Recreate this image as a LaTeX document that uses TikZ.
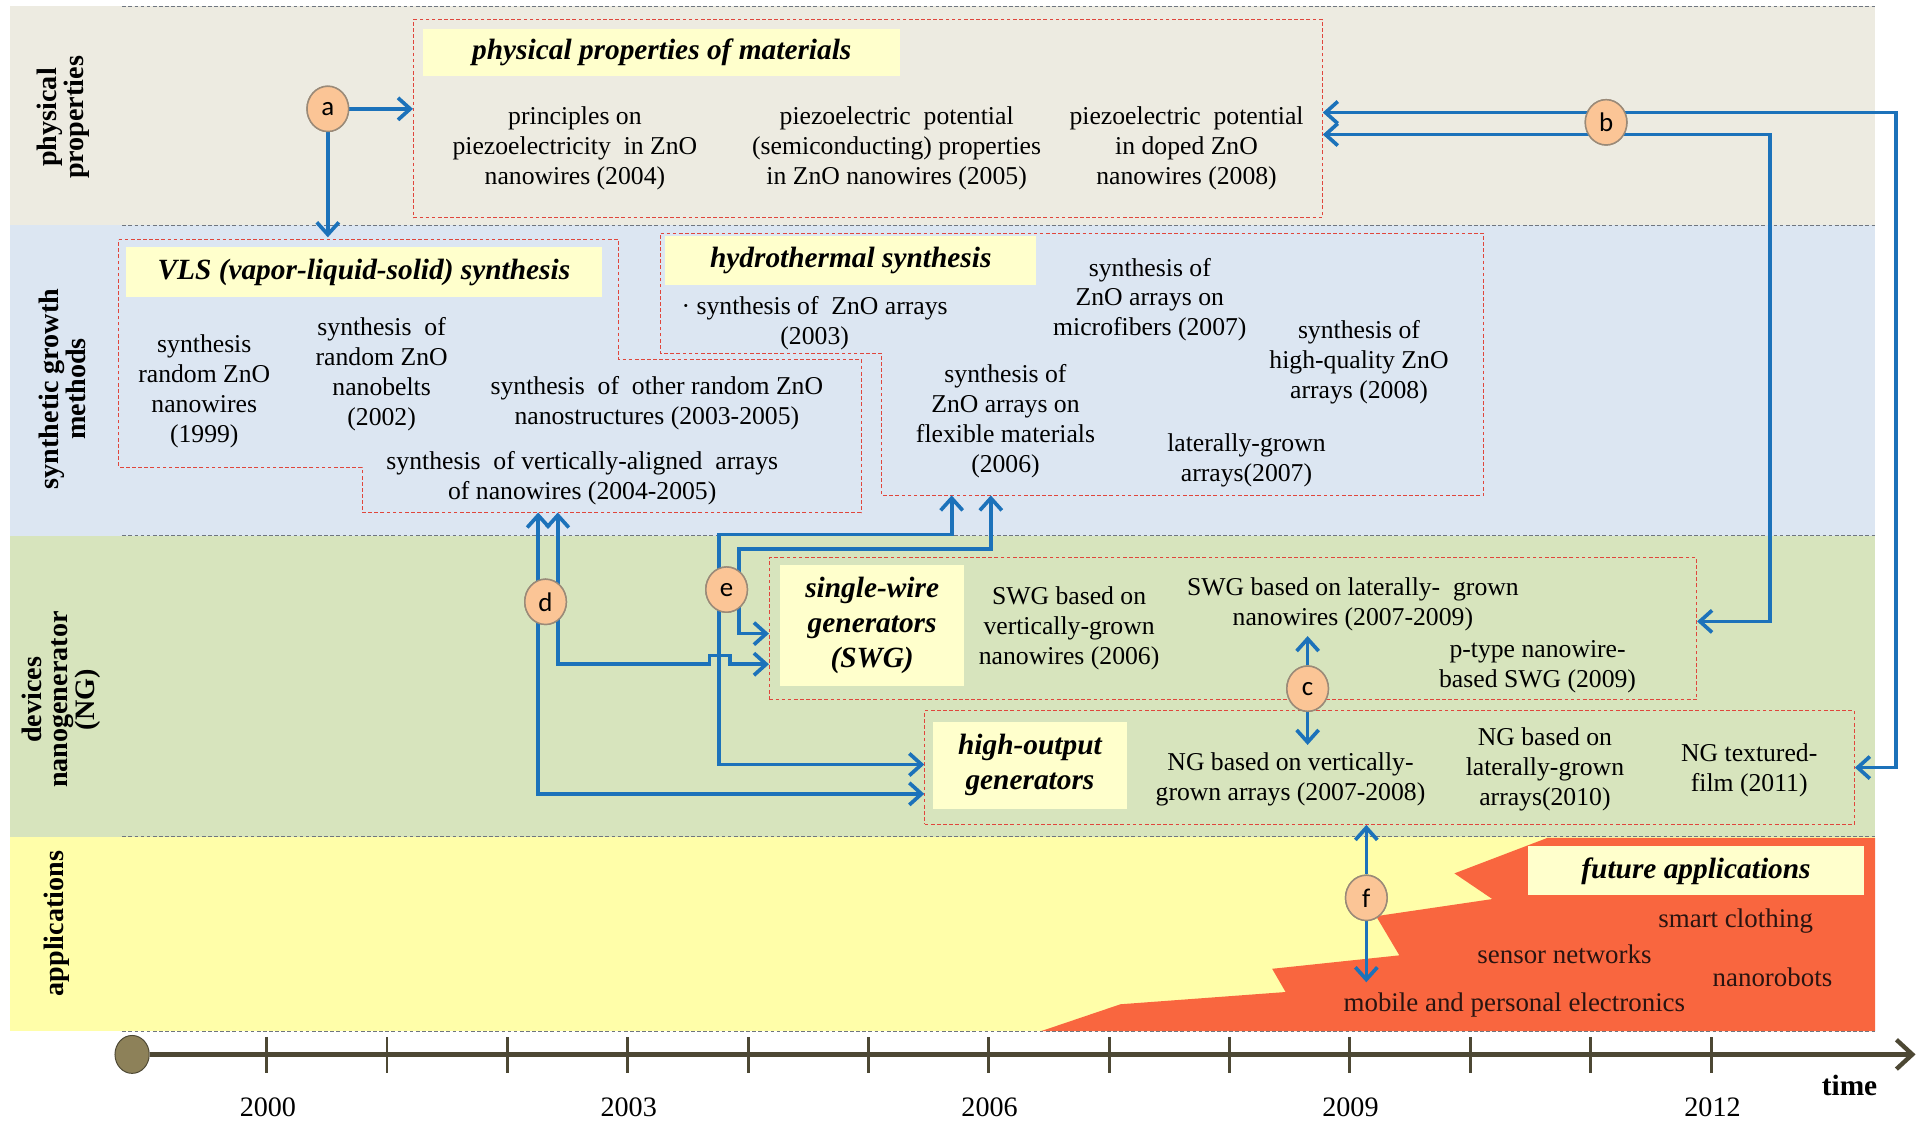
\documentclass[tikz,border=0pt]{standalone}
\usepackage{fontspec}
\setmainfont{Liberation Serif}
\newfontfamily\circfont{Carlito}
\usetikzlibrary{arrows.meta,shapes.geometric}

\definecolor{bandPhys}{HTML}{EDEBE1}
\definecolor{bandSyn}{HTML}{DCE6F2}
\definecolor{bandDev}{HTML}{D7E4BD}
\definecolor{bandApp}{HTML}{FFFEA9}
\definecolor{futRed}{HTML}{F9663F}
\definecolor{titleFill}{HTML}{FFFFCC}
\definecolor{boxRed}{HTML}{E0463C}
\definecolor{sepGray}{HTML}{6F7680}
\definecolor{arrBlue}{HTML}{1C72BA}
\definecolor{circFill}{HTML}{FBC596}
\definecolor{circLine}{HTML}{9A8A78}
\definecolor{axisOlive}{HTML}{4D4834}
\definecolor{dotOlive}{HTML}{8D8159}
\definecolor{futText}{HTML}{2A1410}

\begin{document}
\begin{tikzpicture}[x=1pt,y=-1pt,
  >={Straight Barb[length=10pt,width=18pt]},
  sep/.style={draw=sepGray, dash pattern=on 3pt off 2pt, line width=0.8pt},
  groupbox/.style={draw=boxRed, dash pattern=on 3pt off 2pt, line width=0.8pt},
  titlebox/.style={fill=titleFill, inner sep=0pt, align=center,
    font=\fontsize{24}{28.5}\selectfont\bfseries\itshape},
  txt/.style={align=center, inner sep=0pt, font=\fontsize{21}{24.5}\selectfont},
  futtxt/.style={inner sep=0pt, text=futText, font=\fontsize{22}{26}\selectfont},
  lbl/.style={rotate=90, align=center, inner sep=0pt,
    font=\fontsize{23}{22}\selectfont\bfseries},
  year/.style={inner sep=0pt, font=\fontsize{23}{26}\selectfont},
  tag/.style={ellipse, minimum width=34pt, minimum height=37pt, inner sep=0pt,
    fill=circFill, draw=circLine, line width=1.2pt,
    font=\circfont\fontsize{22}{22}\selectfont},
  conn/.style={draw=arrBlue, line width=3pt},
  axis/.style={draw=axisOlive, line width=3.6pt},
  tick/.style={draw=axisOlive, line width=2.4pt}]

\useasboundingbox (0,0) rectangle (1568,917);

% horizontal bands
\fill[bandPhys] (8,5) rectangle (1533,184);
\fill[bandSyn] (8,184) rectangle (1533,438);
\fill[bandDev] (8,438) rectangle (1533,684);
\fill[bandApp] (8,684) rectangle (1533,843);

% rising area of future applications
\fill[futRed] (851,843) -- (916,821) -- (1051,811) -- (1040,792) -- (1144,781)
  -- (1125,749) -- (1220,735) -- (1189,714) -- (1265,685) -- (1533,685)
  -- (1533,843) -- cycle;

% band separators
\foreach \yy in {5,184,438,684,843}
  \draw[sep] (100,\yy) -- (1533,\yy);

% band labels
\node[lbl] (lphys) at (52,96) {physical\\properties};
\node[lbl] (lsyn) at (51,318) {synthetic growth\\methods};
\node[lbl] (ldev) at (50,572) {devices\\nanogenerator\\(NG)};
\node[lbl] (lapp) at (46,755) {applications};

% ---- physical properties ----
\node[groupbox, minimum width=743pt, minimum height=162pt, inner sep=0pt] (ppbox) at (709.5,97) {};
\node[titlebox, minimum width=390pt, minimum height=38pt] (ppttl) at (541,43) {physical properties of materials};
\node[txt] (p1) at (470,121) {principles on\\piezoelectricity\ \ in ZnO\\nanowires (2004)};
\node[txt] (p2) at (733,121) {piezoelectric\ \ potential\\(semiconducting) properties\\in ZnO nanowires (2005)};
\node[txt] (p3) at (970,121) {piezoelectric\ \ potential\\in doped ZnO\\nanowires (2008)};

% ---- VLS synthesis ----
\draw[groupbox] (97,196) -- (506,196) -- (506,294) -- (704,294) -- (704,419)
  -- (296,419) -- (296,382) -- (97,382) -- cycle;
\node[titlebox, minimum width=389pt, minimum height=41pt] (vlsttl) at (297.5,222.5) {VLS (vapor-liquid-solid) synthesis};
\node[txt] (v1) at (167,320) {synthesis\\random ZnO\\nanowires\\(1999)};
\node[txt] (v2) at (312,306) {synthesis\ \ of\\random ZnO\\nanobelts\\(2002)};
\node[txt] (v3) at (537,330) {synthesis\ \ of\ \ other random ZnO\\nanostructures (2003-2005)};
\node[txt] (v4) at (476,391) {synthesis\ \ of vertically-aligned\ \ arrays\\of nanowires (2004-2005)};

% ---- hydrothermal synthesis ----
\draw[groupbox] (540,191) -- (1213,191) -- (1213,405) -- (721,405) -- (721,289)
  -- (540,289) -- cycle;
\node[titlebox, minimum width=303pt, minimum height=40pt] (hyttl) at (695.5,213) {hydrothermal synthesis};
\node[txt] (h1) at (666,264) {· synthesis of\ \ ZnO arrays\\(2003)};
\node[txt] (h2) at (940,245) {synthesis of\\ZnO arrays on\\microfibers (2007)};
\node[txt] (h3) at (1111,296) {synthesis of\\high-quality ZnO\\arrays (2008)};
\node[txt] (h4) at (822,344) {synthesis of\\ZnO arrays on\\flexible materials\\(2006)};
\node[txt] (h5) at (1019,376) {laterally-grown\\arrays(2007)};

% ---- single-wire generators ----
\node[groupbox, minimum width=758pt, minimum height=116pt, inner sep=0pt] (swg) at (1008,514) {};
\node[titlebox, minimum width=150pt, minimum height=99pt] (swgttl) at (713,511.5) {single-wire\\generators\\(SWG)};
\node[txt] (s1) at (874,514) {SWG based on\\vertically-grown\\nanowires (2006)};
\node[txt] (s2) at (1106,494) {SWG based on laterally-\ \ grown\\nanowires (2007-2009)};
\node[txt] (s3) at (1257,545) {p-type nanowire-\\based SWG (2009)};

% ---- high-output generators ----
\node[groupbox, minimum width=760pt, minimum height=93pt, inner sep=0pt] (hobox) at (1136,627.5) {};
\node[titlebox, minimum width=158pt, minimum height=71pt] (hottl) at (842,625.5) {high-output\\generators};
\node[txt] (o1) at (1055,637) {NG based on vertically-\\grown arrays (2007-2008)};
\node[txt] (o2) at (1263,629) {NG based on\\laterally-grown\\arrays(2010)};
\node[txt] (o3) at (1430,630) {NG textured-\\film (2011)};

% ---- future applications ----
\node[titlebox, minimum width=275pt, minimum height=40pt] (futttl) at (1386.5,712) {future applications};
\node[futtxt] (fa1) at (1419,753) {smart clothing};
\node[futtxt] (fa2) at (1279,780) {sensor networks};
\node[futtxt] (fa3) at (1449,799) {nanorobots};
\node[futtxt] (fa4) at (1238,822) {mobile and personal electronics};

% ---- connector end points on the irregular boxes ----
\coordinate (vlsTop) at (268,194);
\coordinate (vlsB1) at (440,419);
\coordinate (vlsB2) at (456,419);
\coordinate (hyB1) at (778,405);
\coordinate (hyB2) at (810,405);
\coordinate (b1r) at (1550,92);
\coordinate (b2r) at (1447,110);
\coordinate (cUp) at (1069,520);
\coordinate (cDn) at (1069,609);
\coordinate (fDn) at (1117,803);

% tags (placed first so the connectors can refer to them)
\node[tag] (ca) at (268,89) {a};
\node[tag] (cb) at (1313,100) {b};
\node[tag] (cc) at (1069,563) {c};
\node[tag] (cd) at (446,492) {d};
\node[tag] (ce) at (594,482) {e};
\node[tag] (cf) at (1117,734) {f};

% connectors
\draw[conn,->] (ca) -- (ca -| ppbox.west);
\draw[conn,->] (ca) -- (vlsTop);
\draw[conn,<->] (ppbox.east |- b1r) -- (b1r) -- (b1r |- hobox.east) -- (hobox.east);
\draw[conn,<->] (ppbox.east |- b2r) -- (b2r) -- (1447,508) -- (swg.east |- 0,508);
\draw[conn,->] (cc) -- (cUp);
\draw[conn,->] (cc) -- (cDn);
\draw[conn,<->] (vlsB1) -- (440,649) -- (hobox.west |- 0,649);
\draw[conn,<->] (vlsB2) -- (456,543) -- (580,543) -- (580,536) -- (597,536)
  -- (597,543) -- (swg.west |- 0,543);
\draw[conn,<->] (hyB1) -- (778,437) -- (588,437) -- (588,625) -- (hobox.west |- 0,625);
\draw[conn,<->] (hyB2) -- (810,449) -- (604,449) -- (604,518) -- (swg.west |- 0,518);
\draw[conn,->] (cf) -- (cf |- hobox.south);
\draw[conn,->] (cf) -- (fDn);

% tags drawn again on top of the connectors
\foreach \t/\l in {ca/a,cb/b,cc/c,cd/d,ce/e,cf/f}
  \node[tag] at (\t) {\l};

% ---- time axis ----
\node[ellipse, minimum width=28pt, minimum height=31pt, inner sep=0pt,
  fill=dotOlive, draw=axisOlive, line width=0.8pt] (t0) at (108,862) {};
\coordinate (tEnd) at (1566,862);
\draw[axis,-{Straight Barb[length=13pt,width=24pt]}] (t0) -- (tEnd);
\foreach \i in {0,...,12}
  \draw[tick] (218+98.4*\i,848) -- (218+98.4*\i,877);
\node[year] (y2000) at (219,905) {2000};
\node[year] (y2003) at (514,905) {2003};
\node[year] (y2006) at (809,905) {2006};
\node[year] (y2009) at (1104,905) {2009};
\node[year] (y2012) at (1400,905) {2012};
\node[year, font=\fontsize{24}{26}\selectfont\bfseries] (ttime) at (1512,887) {time};
\end{tikzpicture}
\end{document}
